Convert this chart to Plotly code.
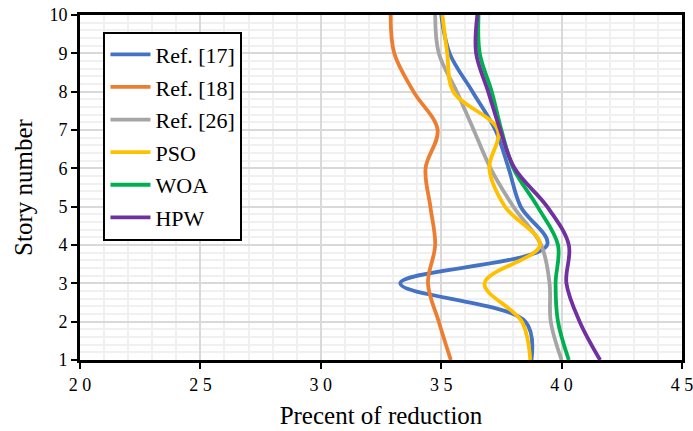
import plotly.graph_objects as go

stories = [1, 2, 3, 4, 5, 6, 7, 8, 9, 10]
ref17 = [38.75, 38.5, 33.3, 39.4, 38.3, 37.8, 37.25, 36.3, 35.35, 35.0]
ref18 = [35.4, 34.9, 34.45, 34.75, 34.55, 34.35, 34.85, 33.85, 33.05, 32.9]
ref26 = [40.0, 39.55, 39.5, 39.15, 38.0, 37.05, 36.35, 35.65, 34.9, 34.75]
pso = [38.7, 38.35, 36.8, 39.1, 37.65, 37.0, 37.35, 35.5, 35.25, 35.05]
woa = [40.3, 39.85, 39.75, 39.85, 39.0, 38.0, 37.5, 37.1, 36.6, 36.55]
hpw = [41.6, 40.75, 40.2, 40.3, 39.4, 38.05, 37.45, 36.95, 36.45, 36.5]

series_names = ["Ref. [17]", "Ref. [18]", "Ref. [26]", "PSO", "WOA", "HPW"]
series_vals = [ref17, ref18, ref26, pso, woa, hpw]
colors = ["#4472C4", "#ED7D31", "#A5A5A5", "#FFC000", "#00B050", "#7030A0"]

x_ticks = [20, 25, 30, 35, 40, 45]
x_ticktext = ["2 0", "2 5", "3 0", "3 5", "4 0", "4 5"]

fig = go.Figure()
for name, vals, col in zip(series_names, series_vals, colors):
    fig.add_trace(go.Scatter(
        x=vals, y=stories, mode="lines", name=name, legendgroup=name,
        line=dict(color=col, width=3.8, shape="spline", smoothing=1.0),
    ))

ff = "'Liberation Serif', 'Times New Roman', serif"

fig.update_layout(
    width=693, height=431,
    margin=dict(l=80, r=11, t=15, b=71),
    paper_bgcolor="white", plot_bgcolor="white",
    font=dict(family=ff, color="black", size=18),
    showlegend=True,
    legend=dict(
        x=0.039, y=0.952, xanchor="left", yanchor="top",
        bgcolor="white", bordercolor="black", borderwidth=2,
        font=dict(family=ff, size=22, color="black"),
        tracegroupgap=1, itemwidth=40,
    ),
    xaxis=dict(
        range=[20, 45], tickvals=x_ticks, ticktext=x_ticktext,
        automargin=False, ticklabeloverflow="allow",
        showline=True, linecolor="black", linewidth=3, mirror=True,
        ticks="outside", ticklen=6, tickwidth=2, tickcolor="black",
        showgrid=True, gridcolor="#d9d9d9", gridwidth=2,
        minor=dict(dtick=1, showgrid=True, gridcolor="#f0f0f0", gridwidth=2),
        zeroline=False,
        title=dict(text="Precent of reduction", font=dict(family=ff, size=25, color="black"), standoff=13),
        tickfont=dict(family=ff, size=18, color="black"),
    ),
    yaxis=dict(
        range=[1, 10], dtick=1,
        automargin=False,
        showline=True, linecolor="black", linewidth=3, mirror=True,
        ticks="outside", ticklen=6, tickwidth=2, tickcolor="black",
        showgrid=True, gridcolor="#d9d9d9", gridwidth=2,
        minor=dict(dtick=0.2, showgrid=True, gridcolor="#f0f0f0", gridwidth=2),
        zeroline=False,
        title=dict(text="Story number", font=dict(family=ff, size=25, color="black"), standoff=10),
        tickfont=dict(family=ff, size=18, color="black"),
    ),
)

fig.write_html("out.html")
